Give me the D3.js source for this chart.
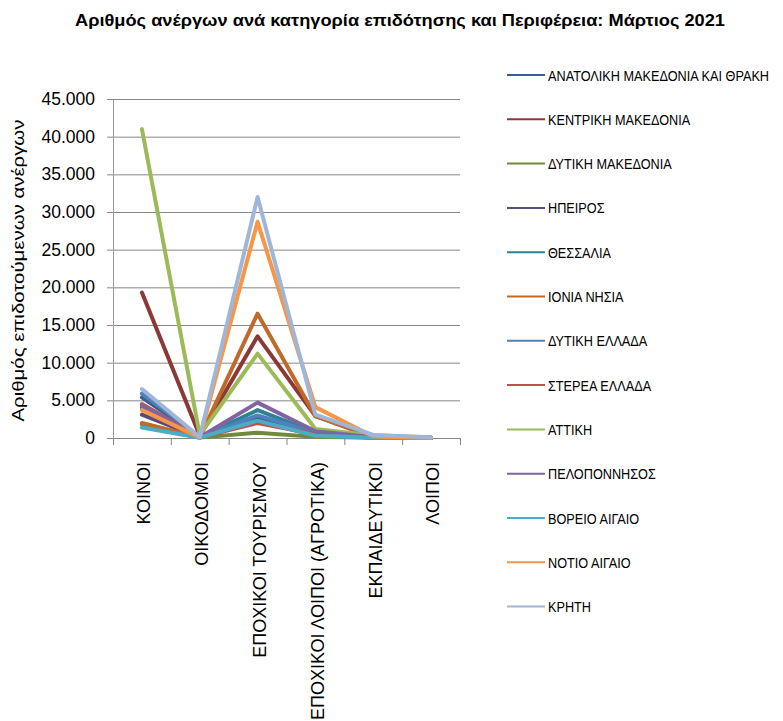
<!DOCTYPE html>
<html>
<head>
<meta charset="utf-8">
<script src="https://cdn.jsdelivr.net/npm/d3@7"></script>
<style>
  body { margin: 0; background: #fff; }
  text { fill: #000; }
</style>
</head>
<body>
<div id="chart-area"></div>
<script>
// categories (x axis)
const categories = ["ΚΟΙΝΟΙ", "ΟΙΚΟΔΟΜΟΙ", "ΕΠΟΧΙΚΟΙ ΤΟΥΡΙΣΜΟΥ",
    "ΕΠΟΧΙΚΟΙ ΛΟΙΠΟΙ (ΑΓΡΟΤΙΚΑ)", "ΕΚΠΑΙΔΕΥΤΙΚΟΙ", "ΛΟΙΠΟΙ"];

// regions (series)
const regions = ["ΑΝΑΤΟΛΙΚΗ ΜΑΚΕΔΟΝΙΑ ΚΑΙ ΘΡΑΚΗ", "ΚΕΝΤΡΙΚΗ ΜΑΚΕΔΟΝΙΑ", "ΔΥΤΙΚΗ ΜΑΚΕΔΟΝΙΑ",
    "ΗΠΕΙΡΟΣ", "ΘΕΣΣΑΛΙΑ", "ΙΟΝΙΑ ΝΗΣΙΑ", "ΔΥΤΙΚΗ ΕΛΛΑΔΑ", "ΣΤΕΡΕΑ ΕΛΛΑΔΑ",
    "ΑΤΤΙΚΗ", "ΠΕΛΟΠΟΝΝΗΣΟΣ", "ΒΟΡΕΙΟ ΑΙΓΑΙΟ", "ΝΟΤΙΟ ΑΙΓΑΙΟ", "ΚΡΗΤΗ"];

// values per region, in category order
const anMakThr  = [5400, 150, 2600, 500, 80, 20];
const kenMak    = [19300, 300, 13500, 2900, 250, 40];
const dytMak    = [1800, 50, 700, 150, 30, 5];
const ipeiros   = [3100, 80, 2200, 400, 60, 10];
const thessalia = [4000, 100, 3700, 700, 80, 15];
const ionia     = [2000, 60, 16500, 2900, 70, 10];
const dytEll    = [5900, 130, 3000, 700, 100, 20];
const sterea    = [4500, 90, 2000, 500, 70, 15];
const attiki    = [41000, 400, 11200, 1200, 350, 60];
const pelop     = [4300, 100, 4700, 900, 90, 20];
const vorAig    = [1400, 40, 2300, 300, 40, 10];
const notAig    = [3700, 80, 28700, 4100, 200, 30];
const kriti     = [6500, 120, 32000, 3100, 400, 100];

const seriesValues = [anMakThr, kenMak, dytMak, ipeiros, thessalia, ionia,
    dytEll, sterea, attiki, pelop, vorAig, notAig, kriti];

const yTicks = [0, 5000, 10000, 15000, 20000, 25000, 30000, 35000, 40000, 45000];

const colors = ["#3B5E8C", "#8C3836", "#6E8A3A", "#584A7A", "#2E8393", "#C0692A",
    "#4F81BD", "#C0504D", "#9BBB59", "#8064A2", "#4BACC6", "#F79646", "#A0B6D8"];

// canvas
const canvasWidth = 783;
const canvasHeight = 721;
const margin = {top: 99, left: 113};
const graphWidth = 347;
const graphHeight = 339;

const svg = d3.select("#chart-area")
    .append("svg")
        .attr("width", canvasWidth)
        .attr("height", canvasHeight);

const main = svg.append("g")
    .attr("transform", "translate(" + margin.left + ", " + margin.top + ")");

const grFormat = d3.formatLocale({decimal: ",", thousands: ".", grouping: [3], currency: ["", "€"]}).format(",.0f");

// scales
const x = d3.scaleBand().domain(categories).range([0, graphWidth]);
const y = d3.scaleLinear().domain([0, 45000]).range([graphHeight, 0]);

// gridlines
main.append("g")
    .attr("class", "grid")
    .call(d3.axisLeft(y).tickValues(yTicks).tickSize(-graphWidth).tickFormat(""))
    .call(g => g.select(".domain").remove())
    .call(g => g.selectAll("line").attr("stroke", "#878787").attr("x1", -6));

// y axis
main.append("g")
    .attr("class", "y-axis")
    .call(d3.axisLeft(y).tickValues(yTicks).tickSize(0).tickPadding(18).tickFormat(grFormat))
    .call(g => g.select(".domain").attr("stroke", "#9a9a9a"))
    .call(g => g.selectAll("text")
        .attr("font-family", "'Liberation Sans', Arial, sans-serif")
        .attr("font-size", "17.5px")
        .attr("fill", "#000"));

// x axis: ticks on category boundaries
const xb = d3.scaleLinear().domain([0, categories.length]).range([0, graphWidth]);
main.append("g")
    .attr("class", "x-axis")
    .attr("transform", "translate(0," + graphHeight + ")")
    .call(d3.axisBottom(xb).tickValues(d3.range(categories.length + 1)).tickSize(7).tickSizeOuter(0).tickFormat(""))
    .call(g => g.select(".domain").attr("stroke", "#878787"))
    .call(g => g.selectAll("line").attr("stroke", "#878787"));

main.selectAll(".x-label")
    .data(categories)
    .enter()
    .append("text")
        .attr("class", "x-label")
        .attr("transform", d => "translate(" + (x(d) + x.bandwidth() / 2 + 2) + "," + (graphHeight + 24) + ") rotate(-90)")
        .attr("dy", "0.35em")
        .attr("text-anchor", "end")
        .attr("font-family", "'Liberation Sans', Arial, sans-serif")
        .attr("font-size", "18px")
        .text(d => d);

// lines
const line = d3.line()
    .x((d, i) => x(categories[i]) + x.bandwidth() / 2)
    .y(d => y(d));

main.selectAll(".series")
    .data(seriesValues)
    .enter()
    .append("path")
        .attr("class", "series")
        .attr("fill", "none")
        .attr("stroke", (d, i) => colors[i])
        .attr("stroke-width", 4)
        .attr("stroke-linejoin", "round")
        .attr("stroke-linecap", "round")
        .attr("d", line);

// title
svg.append("text")
    .attr("x", 400)
    .attr("y", 26)
    .attr("text-anchor", "middle")
    .attr("font-family", "'Liberation Sans', Arial, sans-serif")
    .attr("font-size", "16.5px")
    .attr("font-weight", "bold")
    .attr("textLength", 650)
    .attr("lengthAdjust", "spacingAndGlyphs")
    .text("Αριθμός ανέργων ανά κατηγορία επιδότησης και Περιφέρεια:  Μάρτιος  2021");

// y label
svg.append("text")
    .attr("transform", "translate(18," + (margin.top + graphHeight / 2 + 2) + ") rotate(-90)")
    .attr("dy", "0.35em")
    .attr("text-anchor", "middle")
    .attr("font-family", "'Liberation Sans', Arial, sans-serif")
    .attr("font-size", "17px")
    .attr("textLength", 302)
    .attr("lengthAdjust", "spacingAndGlyphs")
    .text("Αριθμός επιδοτούμενων ανέργων");

// legend
const legend = svg.append("g")
    .attr("class", "legend-group")
    .attr("transform", "translate(507, 75)");

regions.forEach((region, i) => {
    const legendRow = legend.append("g")
        .attr("transform", "translate(0," + (i * 44.3) + ")");
    legendRow.append("line")
        .attr("x1", 0).attr("x2", 38)
        .attr("stroke", colors[i])
        .attr("stroke-width", 2);
    // narrow the glyphs to get close to the condensed original font
    legendRow.append("text")
        .attr("transform", "translate(41,0) scale(0.82,1)")
        .attr("dy", "0.36em")
        .attr("font-family", "'Liberation Sans', Arial, sans-serif")
        .attr("font-size", "15.5px")
        .text(region);
});
</script>
</body>
</html>
